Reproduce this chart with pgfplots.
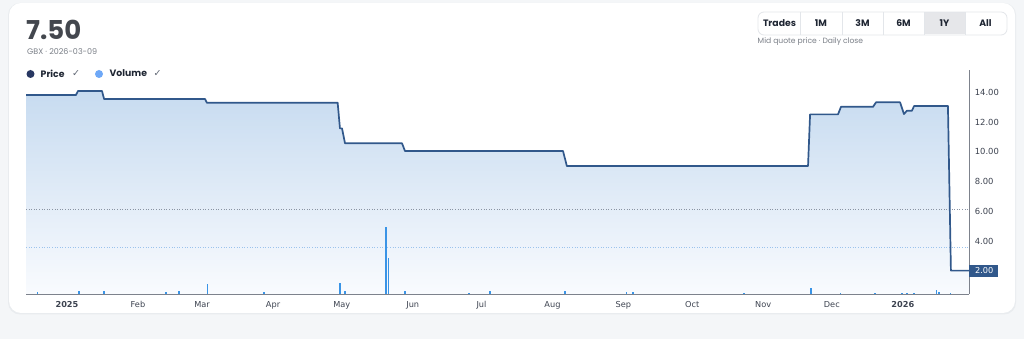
\documentclass[border=0pt]{standalone}
\usepackage{fontspec}
\setmainfont{DejaVu Sans}
\newfontfamily\pop{Poppins}
\newfontfamily\dejavu{DejaVu Sans}
\usepackage{pgfplots}
\pgfplotsset{compat=1.18}
\definecolor{bg}{HTML}{F4F6F8}
\definecolor{shadow}{HTML}{E9ECEF}
\definecolor{btnborder}{HTML}{E3E6EA}
\definecolor{btnsel}{HTML}{E6E7EA}
\definecolor{headtext}{HTML}{43474E}
\definecolor{subtext}{HTML}{7A7F87}
\definecolor{darktext}{HTML}{1F2633}
\definecolor{navydot}{HTML}{283762}
\definecolor{lightdot}{HTML}{6EA8F7}
\definecolor{checkgray}{HTML}{5F6673}
\definecolor{axisgray}{HTML}{7D828C}
\definecolor{ticktext}{HTML}{3D4350}
\definecolor{priceblue}{HTML}{31588B}
\definecolor{filltop}{HTML}{C7DBF0}
\definecolor{fillbot}{HTML}{F9FBFE}
\definecolor{volblue}{HTML}{3A94E6}
\definecolor{gridgray}{HTML}{8A93A3}
\definecolor{gridblue}{HTML}{9CC3EC}
\begin{document}
\begin{tikzpicture}
\begin{scope}[x=1pt,y=1pt]
\useasboundingbox (0,0) rectangle (1024,339);
\fill[bg] (0,0) rectangle (1024,339);
\fill[shadow, rounded corners=12pt] (8,24.5) rectangle (1016,336);
\fill[white, rounded corners=12pt] (9,26) rectangle (1015,336);
% header
\node[anchor=base west, inner sep=0pt, font=\pop\bfseries\fontsize{26}{26}\selectfont, text=headtext] at (26,299) {7.50};
\node[anchor=base west, inner sep=0pt, font=\pop\fontsize{8}{8}\selectfont, text=subtext] at (27,284) {GBX · 2026-03-09};
% legend
\fill[navydot] (30.5,265) circle (4);
\node[anchor=west, inner sep=0pt, font=\pop\bfseries\fontsize{9.3}{9.3}\selectfont, text=darktext] at (40.5,265.5) {Price};
\node[anchor=center, inner sep=0pt, font=\dejavu\fontsize{9.5}{9.5}\selectfont, text=checkgray] at (76,265) {✓};
\fill[lightdot] (99,265) circle (4);
\node[anchor=west, inner sep=0pt, font=\pop\bfseries\fontsize{9.3}{9.3}\selectfont, text=darktext] at (109.5,265.5) {Volume};
\node[anchor=center, inner sep=0pt, font=\dejavu\fontsize{9.5}{9.5}\selectfont, text=checkgray] at (157.5,265) {✓};
% buttons
\fill[btnsel] (924,304.5) rectangle (965,326.5);
\draw[btnborder, line width=0.8pt, rounded corners=6pt] (758,304) rectangle (1007,327);
\foreach \xx in {800,842,883,924,965} {\draw[btnborder, line width=0.8pt] (\xx,304) -- (\xx,327);}
\foreach \xx/\lab in {779.5/Trades,821/1M,862.5/3M,903.5/6M,944.5/1Y,985.5/All} {
  \node[anchor=center, inner sep=0pt, font=\pop\bfseries\fontsize{9.3}{9.3}\selectfont, text=darktext] at (\xx,315.5) {\lab};
}
\node[anchor=west, inner sep=0pt, font=\pop\fontsize{7.6}{7.6}\selectfont, text=subtext] at (757.5,297) {Mid quote price · Daily close};
\end{scope}
% price area + axes
\begin{axis}[
  at={(26pt,45pt)}, anchor=south west, scale only axis,
  width=943pt, height=224pt,
  xmin=-17.9, xmax=393.9, ymin=0.46, ymax=15.5,
  axis x line*=bottom, axis y line*=right,
  axis line style={draw=axisgray, line width=0.8pt},
  axis on top=true,
  major tick length=0pt,
  /pgf/number format/assume math mode=true,
  ytick={4,6,8,10,12,14},
  yticklabel style={/pgf/number format/.cd, fixed, fixed zerofill, precision=2, /tikz/.cd,
    font=\fontsize{8.4}{8.4}\selectfont, text=ticktext, anchor=west, xshift=2.3pt},
  xtick={0,31,59,90,120,151,181,212,243,273,304,334,365},
  xticklabels={\textbf{2025},Feb,Mar,Apr,May,Jun,Jul,Aug,Sep,Oct,Nov,Dec,\textbf{2026}},
  xticklabel style={font=\fontsize{8.2}{8.2}\selectfont, text=ticktext, yshift=-3.5pt},
]
\addplot[draw=none, top color=filltop, bottom color=fillbot] coordinates {
(-17.9,13.82) (3.9,13.82) (4.8,14.09) (15.3,14.09) (16.2,13.55) (60.3,13.55)
(61.1,13.30) (118.2,13.30) (119.2,11.58) (120.1,11.58) (121.4,10.58) (146.3,10.58)
(147.6,10.06) (216.6,10.06) (218.3,9.05) (323.6,9.05) (324.5,12.52) (336.7,12.52)
(338.0,13.03) (352.0,13.03) (353.3,13.33) (363.8,13.33) (365.5,12.54) (366.8,12.77)
(369.0,12.77) (369.9,13.08) (384.7,13.08) (386.0,2.03) (393.9,2.03)
} \closedcycle;
\end{axis}
% volume
\begin{axis}[
  at={(26pt,45pt)}, anchor=south west, scale only axis,
  width=943pt, height=224pt,
  xmin=-17.9, xmax=393.9, ymin=0, ymax=224,
  hide axis,
]
\addplot[gridgray, dotted, line width=0.6pt] coordinates {(-17.9,85) (393.9,85)};
\addplot[gridblue, dotted, line width=0.6pt] coordinates {(-17.9,46.7) (393.9,46.7)};
\addplot[ycomb, draw=volblue, line width=1.4pt, mark=none] coordinates {
(-13.0,2) (5.2,3) (16.2,2.5) (43.2,2) (48.9,2.5) (61.4,10) (86.0,2) (119.2,11)
(121.4,3) (139.3,67) (140.3,36) (147.6,3) (175.5,1) (184.7,2.5) (217.5,2.7)
(244.4,2.3) (247.2,1.7) (295.6,1) (324.9,5.7) (337.9,1) (352.8,1) (364.6,1)
(366.8,1) (369.9,1) (379.8,3.7) (380.8,1.7) (385.9,1)
};
\end{axis}
% price line
\begin{axis}[
  at={(26pt,45pt)}, anchor=south west, scale only axis,
  width=943pt, height=224pt,
  xmin=-17.9, xmax=393.9, ymin=0.46, ymax=15.5,
  hide axis, clip=false,
]
\addplot[priceblue, line width=1.7pt, line join=round, mark=none] coordinates {
(-17.9,13.82) (3.9,13.82) (4.8,14.09) (15.3,14.09) (16.2,13.55) (60.3,13.55)
(61.1,13.30) (118.2,13.30) (119.2,11.58) (120.1,11.58) (121.4,10.58) (146.3,10.58)
(147.6,10.06) (216.6,10.06) (218.3,9.05) (323.6,9.05) (324.5,12.52) (336.7,12.52)
(338.0,13.03) (352.0,13.03) (353.3,13.33) (363.8,13.33) (365.5,12.54) (366.8,12.77)
(369.0,12.77) (369.9,13.08) (384.7,13.08) (386.0,2.03) (393.9,2.03)
};
\node[anchor=west, fill=priceblue, text=white, inner sep=0pt, minimum width=29pt, minimum height=12pt,
  font=\fontsize{8.2}{8.2}\selectfont] at (axis cs:393.9,2.03) {\hspace*{1pt}2.00};
\end{axis}
\end{tikzpicture}
\end{document}
